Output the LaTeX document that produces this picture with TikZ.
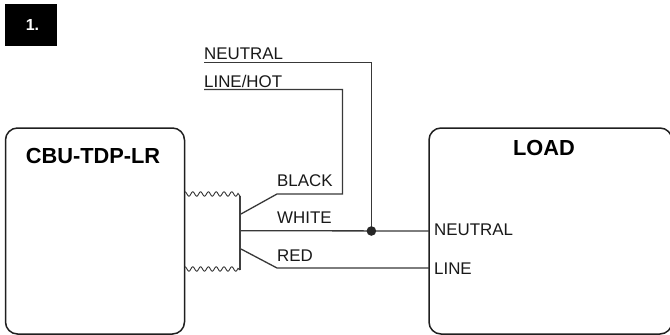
\documentclass[tikz,border=0pt]{standalone}
\usepackage{fontspec}
\setmainfont{Liberation Sans}
\begin{document}
\begin{tikzpicture}[x=1pt,y=-1pt,
  box/.style={draw=black!88,line width=1.5pt,rounded corners=12pt},
  wire/.style={draw=black!78,line width=1.3pt},
  wave/.style={draw=black!80,line width=0.9pt},
  lab/.style={inner sep=0pt,anchor=base west,font=\fontsize{16.9pt}{18pt}\selectfont,text=black!90},
  title/.style={inner sep=0pt,anchor=base,font=\bfseries\fontsize{21.8pt}{24pt}\selectfont}]
\useasboundingbox (0,0) rectangle (670,335);
\fill[white] (0,0) rectangle (670,335);
\node[fill=black,minimum width=52pt,minimum height=42pt,inner sep=0pt] (num) at (31,25) {};
\node[inner sep=0pt,text=white,font=\bfseries\fontsize{16pt}{18pt}\selectfont] (numt) at (32.5,25) {1.};
\path[box] (5.5,334) rectangle (184.5,128);
\path[box] (429,334) rectangle (672,128);
\node[title] (cbu) at (93,163) {CBU-TDP-LR};
\node[title] (load) at (544,155) {LOAD};
\node[lab] (neu1) at (204,59) {NEUTRAL};
\node[lab] (hot) at (204,87) {LINE/HOT};
\node[lab] (blk) at (277,186) {BLACK};
\node[lab] (wht) at (277,223) {WHITE};
\node[lab] (red) at (277,261) {RED};
\node[lab] (neu2) at (434,235) {NEUTRAL};
\node[lab] (line) at (434,274) {LINE};
\coordinate (a1) at (204,62.4);
\coordinate (a2) at (371.4,62.4);
\coordinate (j) at (371.4,231);
\coordinate (b1) at (204,89.5);
\coordinate (b2) at (342.4,89.5);
\coordinate (b3) at (342.4,194);
\coordinate (b4) at (277,194);
\coordinate (b5) at (241,214);
\coordinate (w1) at (240,230.7);
\coordinate (w2) at (429,231);
\coordinate (r1) at (241,249);
\coordinate (r2) at (277,268);
\coordinate (r3) at (429,268);
\coordinate (n1) at (240,196);
\coordinate (n2) at (240,270);
\draw[wire] (a1) -- (a2) -- (j);
\draw[wire] (b1) -- (b2) -- (b3) -- (b4) -- (b5);
\draw[wire] (w1) -- (w2);
\draw[wire] (r1) -- (r2) -- (r3);
\draw[draw=black!75,line width=1.5pt] (n1) -- (n2);
\fill[black!85] (j) circle (4.8pt);
\draw[wave] plot[domain=185:238,samples=80,smooth] (\x,{194-2.2*cos((\x-185)/7.8*360)}) -- (n1);
\draw[wave] plot[domain=185:238,samples=80,smooth] (\x,{269-2.2*cos((\x-185)/7.8*360)}) -- (n2);
\end{tikzpicture}
\end{document}
